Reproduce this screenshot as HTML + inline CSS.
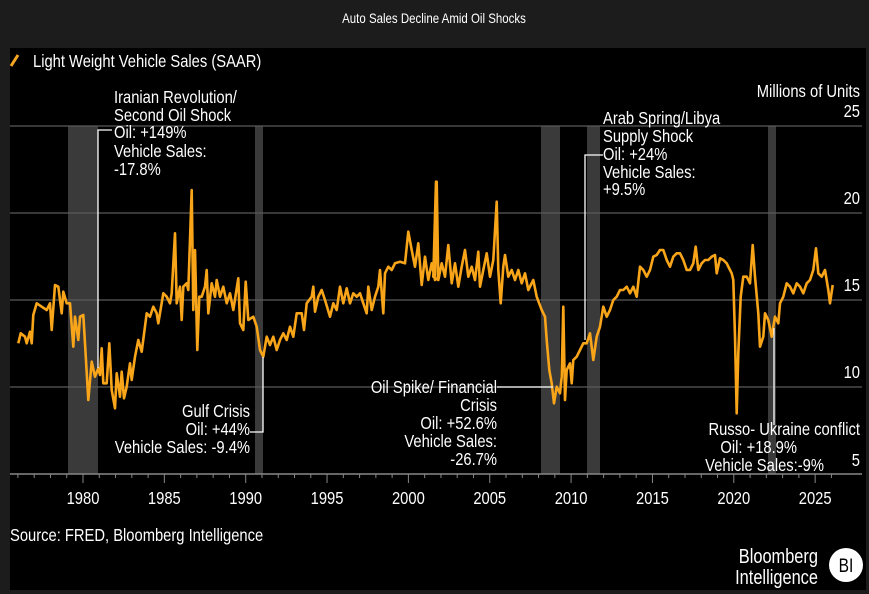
<!DOCTYPE html>
<html><head><meta charset="utf-8"><style>
html,body{margin:0;padding:0;background:#1c1c1c;}
svg{display:block;}
text{font-family:"Liberation Sans Narrow","Liberation Sans",sans-serif;fill:#fff;}
</style></head><body>
<svg id="s" width="869" height="594" viewBox="0 0 869 594" xmlns="http://www.w3.org/2000/svg">
<rect x="0" y="0" width="869" height="594" fill="#1c1c1c"/>
<rect x="10" y="48" width="856" height="542" fill="#000"/>
<text class="c" x="434" y="23" font-size="14" text-anchor="middle">Auto Sales Decline Amid Oil Shocks</text>
<line x1="11" y1="66" x2="18" y2="55" stroke="#f5a623" stroke-width="3"/>
<text class="c" x="33" y="67" font-size="18">Light Weight Vehicle Sales (SAAR)</text>
<g fill="#3a3a3a">
<rect x="68" y="126" width="30" height="348"/>
<rect x="255" y="126" width="8" height="348"/>
<rect x="541" y="126" width="19" height="348"/>
<rect x="587" y="126" width="13" height="348"/>
<rect x="768" y="126" width="8" height="348"/>
</g>
<g stroke="#5a5a5a" stroke-width="1.3">
<line x1="10" y1="126" x2="862" y2="126"/>
<line x1="10" y1="213" x2="862" y2="213"/>
<line x1="10" y1="300" x2="862" y2="300"/>
<line x1="10" y1="387" x2="862" y2="387"/>
</g>
<line x1="10" y1="474" x2="862" y2="474" stroke="#888" stroke-width="1.5"/>
<g id="ticks" stroke="#888" stroke-width="1"></g>
<g font-size="18" text-anchor="middle" id="xl"></g>
<g font-size="18" text-anchor="end">
<text class="c" x="860" y="97">Millions of Units</text>
<text class="c" x="860" y="117">25</text>
<text class="c" x="860" y="204">20</text>
<text class="c" x="860" y="291">15</text>
<text class="c" x="860" y="378">10</text>
<text class="c" x="860" y="466">5</text>
</g>
<path id="series" fill="none" stroke="#f9a51a" stroke-width="2.6" stroke-linejoin="round"/>
<g stroke="#fff" stroke-width="1.3" fill="none">
<polyline points="112,130 98,130 98,368"/>
<polyline points="603,155 585,155 585,340"/>
<polyline points="250,432 263,432 263,357"/>
<polyline points="497,387 553,387"/>
<polyline points="774,328 774,425"/>
</g>
<g font-size="18">
<text class="c" x="114" y="103">Iranian Revolution/</text>
<text class="c" x="114" y="121">Second Oil Shock</text>
<text class="c" x="114" y="138">Oil: +149%</text>
<text class="c" x="114" y="157">Vehicle Sales:</text>
<text class="c" x="114" y="175">-17.8%</text>
<text class="c" x="603" y="124">Arab Spring/Libya</text>
<text class="c" x="603" y="142">Supply Shock</text>
<text class="c" x="603" y="160">Oil: +24%</text>
<text class="c" x="603" y="178">Vehicle Sales:</text>
<text class="c" x="603" y="195">+9.5%</text>
</g>
<g font-size="18" text-anchor="end">
<text class="c" x="250" y="417">Gulf Crisis</text>
<text class="c" x="250" y="435">Oil: +44%</text>
<text class="c" x="250" y="453">Vehicle Sales: -9.4%</text>
<text class="c" x="497" y="393">Oil Spike/ Financial</text>
<text class="c" x="497" y="411">Crisis</text>
<text class="c" x="497" y="429">Oil: +52.6%</text>
<text class="c" x="497" y="447">Vehicle Sales:</text>
<text class="c" x="497" y="465">-26.7%</text>
<text class="c" x="860" y="435">Russo- Ukraine conflict</text>
<text class="c" x="797" y="453">Oil: +18.9%</text>
<text class="c" x="824" y="471">Vehicle Sales:-9%</text>
</g>
<text class="c" x="10" y="541" font-size="18">Source: FRED, Bloomberg Intelligence</text>
<text class="c" x="818" y="563" font-size="20" text-anchor="end">Bloomberg</text>
<text class="c" x="818" y="584" font-size="20" text-anchor="end">Intelligence</text>
<circle cx="846" cy="565" r="17" fill="#fff"/>
<text class="c" x="846" y="572" font-size="19" text-anchor="middle" style="fill:#000">BI</text>
</svg>
<script>
var a=[55,520,62,490,75,500,80,520,90,485,95,520,100,435,110,400,125,410,140,420,150,400,155,480,165,345,175,350,185,430,190,365,200,400,210,400,220,530,225,440,235,510,240,440,250,435,255,520,265,690,275,575,285,620,295,595,300,615,305,535,310,640,320,640,328,520,335,660,345,715,350,610,360,680,365,605,372,685,380,650,390,580,395,630,405,560,415,510,425,545,440,430,450,440,460,410,470,430,475,460,490,370,500,380,510,400,515,370,525,190,530,400,540,350,545,450,550,350,560,340,565,360,575,60,580,420,585,240,592,540,598,380,605,380,615,350,620,300,625,430,635,340,645,380,650,330,660,380,670,350,680,400,690,370,700,420,715,325,720,460,730,480,737,335,745,450,760,440,770,470,780,540,790,560,800,500,810,525,820,500,830,540,840,510,850,490,860,510,870,470,880,500,890,430,905,430,912,480,920,400,935,380,940,350,945,425,955,380,965,360,975,390,990,440,1000,400,1010,420,1020,350,1030,400,1040,355,1050,400,1060,370,1070,380,1080,370,1090,400,1100,430,1105,350,1115,420,1125,380,1135,350,1140,300,1150,430,1155,310,1165,290,1175,300,1185,280,1200,275,1215,280,1225,185,1235,240,1245,290,1255,220,1265,345,1275,260,1285,330,1295,280,1305,330,1310,35,1315,330];
var b=[10,320,18,35,25,330,35,280,45,320,55,225,65,340,75,280,85,350,95,290,105,240,115,320,125,290,135,330,145,245,150,350,160,300,170,250,180,320,190,270,200,95,205,300,212,400,220,290,225,255,235,320,245,300,255,330,265,300,275,340,285,310,295,360,310,330,320,380,335,420,345,440,350,510,358,600,365,640,372,700,380,650,390,670,395,620,400,410,405,690,410,600,420,580,425,640,430,570,440,560,450,540,460,520,470,520,480,490,490,570,500,500,510,470,520,410,530,440,540,420,550,390,560,380,570,360,580,360,590,350,600,370,610,350,620,380,630,290,640,300,650,320,660,300,670,260,680,255,690,240,700,240,710,270,720,290,730,260,740,250,750,250,760,270,770,300,780,300,790,280,797,230,805,300,815,280,825,270,835,270,845,260,855,255,860,310,870,265,880,270,890,280,900,300,905,310,910,330,915,500,920,730,925,550,932,380,940,320,950,320,960,340,968,225,975,320,985,430,990,530,1000,500,1005,430,1015,450,1025,500,1035,440,1045,460,1050,400,1060,380,1070,340,1080,350,1090,370,1100,340,1110,350,1120,370,1130,340,1140,330,1150,300,1158,235,1165,310,1175,320,1185,300,1195,360,1200,400,1208,345];
var d=[];
for(var i=0;i<a.length;i+=2){d.push((a[i]/3).toFixed(1)+","+(170+a[i+1]/3).toFixed(1));}
for(var i=0;i<b.length;i+=2){d.push((430+b[i]/3).toFixed(1)+","+(170+b[i+1]/3).toFixed(1));}
document.getElementById("series").setAttribute("d","M"+d.join("L"));
var ns="http://www.w3.org/2000/svg",t=document.getElementById("ticks"),xl=document.getElementById("xl");
for(var y=1976;y<=2026;y++){var x=83+16.27*(y-1980);var l=document.createElementNS(ns,"line");
l.setAttribute("x1",x);l.setAttribute("x2",x);l.setAttribute("y1",474);l.setAttribute("y2",y%5==0?483:478);t.appendChild(l);
if(y%5==0&&y>=1980){var tx=document.createElementNS(ns,"text");tx.setAttribute("x",x);tx.setAttribute("y",504);tx.setAttribute("class","c");tx.textContent=y;xl.appendChild(tx);}}
var cs=document.querySelectorAll("text.c");
for(var i=0;i<cs.length;i++){var e=cs[i];var x=parseFloat(e.getAttribute("x"));
e.setAttribute("transform","translate("+x+",0) scale(0.82,1) translate("+(-x)+",0)");}
</script>
</body></html>
